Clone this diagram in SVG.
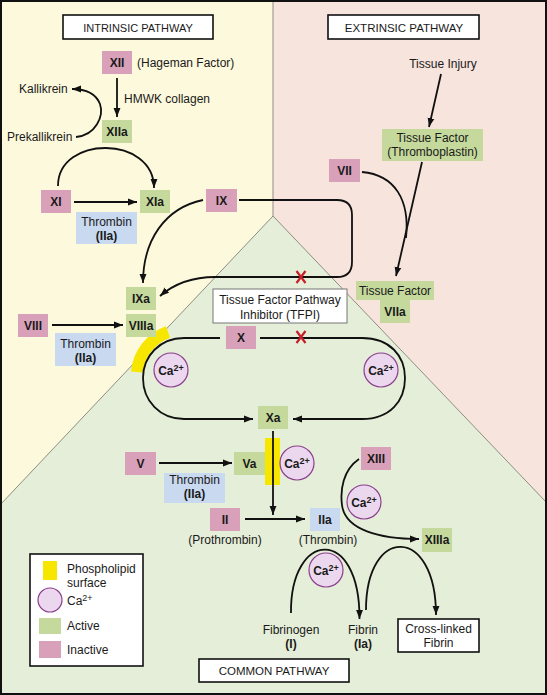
<svg xmlns="http://www.w3.org/2000/svg" width="547" height="695" viewBox="0 0 547 695">
<defs>
<style>
text{font-family:"Liberation Sans",Arial,sans-serif;font-size:12px;fill:#1a1a1a}
.b{font-weight:bold}
.m{text-anchor:middle}
.pk{fill:#d9a1b9}
.gr{fill:#c5d99c}
.bl{fill:#c8d9f0}
.ca{fill:#ecd8ee;stroke:#8b3f8e;stroke-width:1.2}
.ln{fill:none;stroke:#111;stroke-width:1.8}
.ar{fill:none;stroke:#111;stroke-width:1.8;marker-end:url(#ah)}
.wb{fill:#fff;stroke:#111;stroke-width:1.6}
.div{fill:none;stroke:#8e8e80;stroke-width:1}
.rx{stroke:#c8202a;stroke-width:2.2;fill:none}
.sup{font-size:9px}
</style>
<marker id="ah" viewBox="0 0 10 10" refX="10" refY="5" markerWidth="9" markerHeight="9" markerUnits="userSpaceOnUse" orient="auto"><path d="M0,1.2 L10,5 L0,8.8 z" fill="#111"/></marker>
</defs>

<g id="background">
<rect x="0" y="0" width="273" height="695" fill="#fdf9dd"/>
<rect x="273" y="0" width="274" height="695" fill="#f6e4dd"/>
<polygon points="273,216 547,503 547,695 0,695 0,505" fill="#e5eed8"/>
<line class="div" x1="273" y1="0" x2="273" y2="216"/>
<polyline class="div" points="0,505 273,216 547,503"/>
</g>

<g id="phospholipid">
<path d="M168,332 A47,47 0 0 0 137,372" fill="none" stroke="#f7e600" stroke-width="12"/>
<rect x="265" y="438" width="15" height="47" fill="#f7e600"/>
</g>

<g id="connectors">
<path class="ar" d="M117,78 V117"/>
<path class="ar" d="M76,137 C96,135 104,116 100,104 C96,94 86,89 72,89"/>
<path class="ar" d="M58,186 C58,135 154,135 154,188"/>
<path class="ar" d="M74,202 H137"/>
<path class="ar" d="M203,200 C165,208 143,240 143,283"/>
<path class="ar" d="M239,200 H337 Q352,200 352,215 V262 Q352,277 337,277 H215 C192,277 174,284 160,296"/>
<path class="ar" d="M52,325 H123"/>
<path class="ar" d="M220,338 H184 C160,338 143,356 143,378 C143,401 160,419 184,419 H253"/>
<path class="ar" d="M260,338 H362 C390,338 405,356 405,378 C405,401 390,419 362,419 H293"/>
<path class="ar" d="M441,74 L429,127"/>
<path class="ar" d="M422,162 L396,276"/>
<path class="ln" d="M362,172 C395,175 410,200 406,238"/>
<path class="ar" d="M273,431 V515"/>
<path class="ar" d="M159,463 H232"/>
<path class="ar" d="M245,519 H305"/>
<path class="ar" d="M359,459 C343,470 340,490 342,505 C345,530 380,539 419,539"/>
<path class="ar" d="M291,613 C290,530 360,525 359.5,619"/>
<path class="ar" d="M366,610 C366,525 436,525 436,615"/>
<path class="rx" d="M296.5,271 L305.5,283 M305.5,271 L296.5,283"/>
<path class="rx" d="M296.5,331 L305.5,343 M305.5,331 L296.5,343"/>
</g>

<g id="title-intrinsic"><rect class="wb" x="63" y="15" width="150" height="24"/><text class="m" x="138" y="31.5" style="font-size:11px">INTRINSIC PATHWAY</text></g>
<g id="title-extrinsic"><rect class="wb" x="328" y="15" width="151" height="24"/><text class="m" x="404" y="31.5" style="font-size:11.5px">EXTRINSIC PATHWAY</text></g>
<g id="title-common"><rect class="wb" x="199" y="659" width="150" height="23"/><text class="m" x="274" y="675" style="font-size:11.5px">COMMON PATHWAY</text></g>

<g id="n-XII"><rect class="pk" x="102" y="51" width="30" height="23"/><text class="b m" x="117" y="67">XII</text></g>
<text id="t-hageman" x="137" y="67">(Hageman Factor)</text>
<text id="t-hmwk" x="124" y="103">HMWK collagen</text>
<text id="t-kallikrein" x="19" y="93">Kallikrein</text>
<text id="t-prekallikrein" x="7" y="141">Prekallikrein</text>
<g id="n-XIIa"><rect class="gr" x="102" y="120" width="30" height="23"/><text class="b m" x="117" y="136">XIIa</text></g>
<g id="n-XI"><rect class="pk" x="41" y="190" width="30" height="23"/><text class="b m" x="56" y="206">XI</text></g>
<g id="n-XIa"><rect class="gr" x="140" y="190" width="30" height="23"/><text class="b m" x="155" y="206">XIa</text></g>
<g id="n-thrombin1"><rect class="bl" x="76" y="212" width="61" height="32"/><text class="m" x="106.5" y="226">Thrombin</text><text class="b m" x="106.5" y="240">(IIa)</text></g>
<g id="n-IX"><rect class="pk" x="206" y="189" width="31" height="23"/><text class="b m" x="221.5" y="205">IX</text></g>
<g id="n-IXa"><rect class="gr" x="126" y="287" width="30" height="23"/><text class="b m" x="141" y="303">IXa</text></g>
<g id="n-VIIIa"><rect class="gr" x="126" y="314" width="30" height="23"/><text class="b m" x="141" y="330">VIIIa</text></g>
<g id="n-VIII"><rect class="pk" x="18" y="314" width="30" height="23"/><text class="b m" x="33" y="330">VIII</text></g>
<g id="n-thrombin2"><rect class="bl" x="55" y="333" width="61" height="33"/><text class="m" x="85.5" y="347.5">Thrombin</text><text class="b m" x="85.5" y="361.5">(IIa)</text></g>
<g id="n-TFPI"><rect x="213" y="289" width="134" height="34" fill="#fff" stroke="#777" stroke-width="1"/><text class="m" x="280" y="304">Tissue Factor Pathway</text><text class="m" x="280" y="318.5">Inhibitor (TFPI)</text></g>
<g id="n-X"><rect class="pk" x="226" y="326" width="30" height="23"/><text class="b m" x="241" y="342">X</text></g>
<g id="n-ca1"><circle class="ca" cx="171" cy="370" r="17"/><text class="b m" x="171" y="375">Ca<tspan class="sup" dy="-4">2+</tspan></text></g>
<g id="n-ca2"><circle class="ca" cx="381" cy="370" r="17"/><text class="b m" x="381" y="375">Ca<tspan class="sup" dy="-4">2+</tspan></text></g>
<g id="n-Xa"><rect class="gr" x="258" y="406" width="30" height="23"/><text class="b m" x="273" y="422">Xa</text></g>
<text id="t-tissue-injury" class="m" x="443" y="68">Tissue Injury</text>
<g id="n-thromboplastin"><rect class="gr" x="382" y="129" width="101" height="32"/><text class="m" x="432.5" y="142">Tissue Factor</text><text class="m" x="432.5" y="156">(Thromboplastin)</text></g>
<g id="n-VII"><rect class="pk" x="329" y="159" width="31" height="23"/><text class="b m" x="344.5" y="175">VII</text></g>
<g id="n-tissue-factor"><rect class="gr" x="356" y="281" width="78" height="19"/><text class="m" x="395" y="295">Tissue Factor</text></g>
<g id="n-VIIa"><rect class="gr" x="380" y="300" width="30" height="23"/><text class="b m" x="395" y="316">VIIa</text></g>
<g id="n-V"><rect class="pk" x="125" y="452" width="31" height="23"/><text class="b m" x="140.5" y="468">V</text></g>
<g id="n-Va"><rect class="gr" x="234" y="452" width="31" height="23"/><text class="b m" x="249.5" y="468">Va</text></g>
<g id="n-ca3"><circle class="ca" cx="297" cy="463" r="17"/><text class="b m" x="297" y="468">Ca<tspan class="sup" dy="-4">2+</tspan></text></g>
<g id="n-thrombin3"><rect class="bl" x="164" y="473" width="61" height="30"/><text class="m" x="194.5" y="484">Thrombin</text><text class="b m" x="194.5" y="498">(IIa)</text></g>
<g id="n-II"><rect class="pk" x="210" y="508" width="30" height="23"/><text class="b m" x="225" y="524">II</text></g>
<text id="t-prothrombin" class="m" x="225" y="544">(Prothrombin)</text>
<g id="n-IIa"><rect class="bl" x="310" y="508" width="30" height="23"/><text class="b m" x="325" y="524">IIa</text></g>
<text id="t-thrombin" class="m" x="328" y="544">(Thrombin)</text>
<g id="n-XIII"><rect class="pk" x="361" y="447" width="30" height="23"/><text class="b m" x="376" y="463">XIII</text></g>
<g id="n-ca4"><circle class="ca" cx="364" cy="502" r="17"/><text class="b m" x="364" y="507">Ca<tspan class="sup" dy="-4">2+</tspan></text></g>
<g id="n-XIIIa"><rect class="gr" x="422" y="528" width="30" height="24"/><text class="b m" x="437" y="544">XIIIa</text></g>
<g id="n-ca5"><circle class="ca" cx="326" cy="570" r="17"/><text class="b m" x="326" y="575">Ca<tspan class="sup" dy="-4">2+</tspan></text></g>
<g id="n-fibrinogen"><text class="m" x="291" y="634">Fibrinogen</text><text class="b m" x="291" y="648">(I)</text></g>
<g id="n-fibrin"><text class="m" x="363" y="634">Fibrin</text><text class="b m" x="363" y="648">(Ia)</text></g>
<g id="n-crosslinked"><rect class="wb" x="398" y="619" width="81" height="33"/><text class="m" x="438.5" y="633">Cross-linked</text><text class="m" x="438.5" y="647">Fibrin</text></g>

<g id="legend">
<rect class="wb" x="30" y="554" width="113" height="112"/>
<rect x="43" y="561" width="14" height="19" fill="#f7e600"/>
<text x="67" y="572.5">Phospholipid</text>
<text x="67" y="586.5">surface</text>
<circle class="ca" cx="50" cy="600" r="12"/>
<text x="67" y="604.5">Ca<tspan class="sup" dy="-4">2+</tspan></text>
<rect class="gr" x="39" y="618" width="22" height="16"/>
<text x="67" y="630">Active</text>
<rect class="pk" x="39" y="641" width="22" height="17"/>
<text x="67" y="654">Inactive</text>
</g>

<rect x="1" y="1" width="545" height="693" fill="none" stroke="#111" stroke-width="2"/>
</svg>
